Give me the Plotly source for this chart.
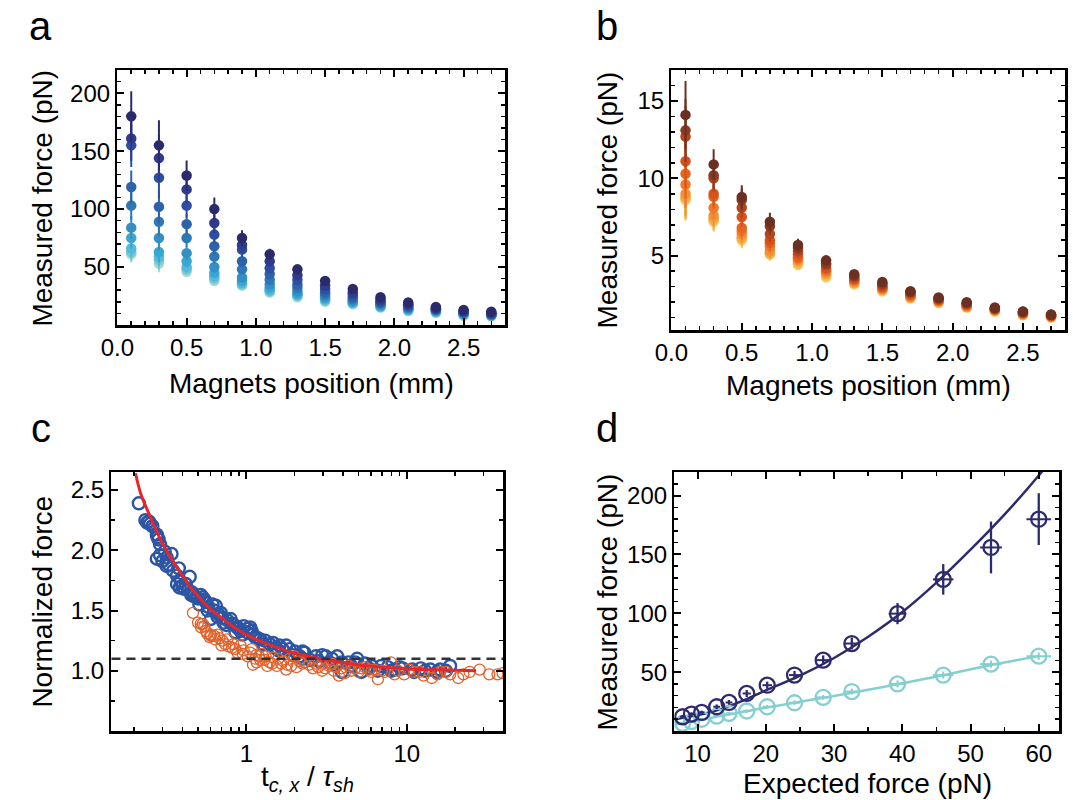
import plotly.graph_objects as go

W, H = 1073, 800
FONT = "Liberation Sans, Arial, sans-serif"

# ---------------- Panel a data ----------------
pos_mm = [0.1, 0.3, 0.5, 0.7, 0.9, 1.1, 1.3, 1.5, 1.7, 1.9, 2.1, 2.3, 2.5, 2.7]
force_a_1 = [180, 155, 129, 100, 75, 61, 48, 38, 31, 24, 19.5, 15.5, 13, 11.5]
force_a_2 = [161, 144, 117, 88, 69, 55, 43, 34, 28, 22, 18, 14.5, 12, 10.5]
force_a_3 = [155, 127, 103, 78, 65, 49, 39, 31, 26, 20.5, 17, 14, 11.5, 10]
force_a_4 = [119, 102, 87, 68, 55, 44, 35, 28.5, 24, 19.5, 16, 13.5, 11, 9.5]
force_a_5 = [103, 89, 75, 59, 48, 39, 32, 26.5, 22.5, 18.5, 15, 13, 10.5, 9]
force_a_6 = [84, 75, 62, 50, 41, 35, 29, 24.5, 21, 17.5, 14.5, 12.5, 10, 8.5]
force_a_7 = [75, 63, 55, 45, 38, 32, 27, 23, 20, 16.5, 13.5, 12, 9.5, 8.5]
force_a_8 = [66, 59, 50, 42, 36, 30, 26, 22, 19, 16, 13, 11.5, 9, 8]
force_a_9 = [63, 56, 48, 40, 35, 29, 25, 21, 18.5, 15.5, 12.5, 11, 8.5, 8]
force_a_10 = [61, 53, 46, 38, 34, 28, 24, 20, 18, 15, 12, 10.5, 8, 7.5]
rel_err_a = [0.12, 0.14, 0.10, 0.10, 0.09, 0.08, 0.065, 0.055, 0.05, 0.05, 0.05, 0.05, 0.05, 0.05]
colors_a = ["#2b2b6b", "#2f3b8e", "#2e4e9f", "#2c63ab", "#2e78b6",
            "#3490c4", "#3aa7d3", "#55b9d9", "#79c7d6", "#a3dbcf"]

# ---------------- Panel b data ----------------
force_b_1 = [14.1, 10.9, 8.8, 7.2, 5.7, 4.7, 3.8, 3.3, 2.7, 2.3, 2.0, 1.65, 1.4, 1.2]
force_b_2 = [13.1, 10.2, 8.6, 6.9, 5.5, 4.5, 3.7, 3.2, 2.65, 2.25, 1.95, 1.6, 1.38, 1.18]
force_b_3 = [12.7, 10.0, 8.1, 6.4, 5.3, 4.4, 3.6, 3.1, 2.6, 2.2, 1.9, 1.58, 1.35, 1.15]
force_b_4 = [11.1, 9.0, 7.5, 6.0, 5.1, 4.2, 3.5, 3.0, 2.5, 2.15, 1.85, 1.55, 1.3, 1.12]
force_b_5 = [10.3, 8.8, 6.8, 5.8, 4.9, 4.1, 3.45, 2.95, 2.45, 2.1, 1.8, 1.52, 1.28, 1.1]
force_b_6 = [9.6, 8.1, 6.6, 5.6, 4.8, 4.0, 3.4, 2.9, 2.4, 2.08, 1.76, 1.5, 1.25, 1.08]
force_b_7 = [9.0, 7.6, 6.4, 5.3, 4.7, 3.9, 3.3, 2.85, 2.35, 2.05, 1.72, 1.47, 1.22, 1.06]
force_b_8 = [8.8, 7.4, 6.2, 5.2, 4.6, 3.8, 3.25, 2.8, 2.3, 2.0, 1.7, 1.45, 1.2, 1.05]
force_b_9 = [8.7, 7.3, 6.1, 5.1, 4.5, 3.7, 3.2, 2.75, 2.27, 1.97, 1.67, 1.42, 1.17, 1.03]
force_b_10 = [8.6, 7.2, 6.0, 5.1, 4.4, 3.6, 3.15, 2.7, 2.25, 1.95, 1.65, 1.4, 1.15, 1.0]
rel_err_b = [0.155, 0.09, 0.085, 0.08, 0.07, 0.05, 0.04, 0.04, 0.04, 0.04, 0.04, 0.04, 0.04, 0.04]
colors_b = ["#6a3021", "#8c3a22", "#b5441f", "#d65419", "#e8651e",
            "#ee7a2b", "#f29238", "#f5a945", "#f7bd52", "#f9cf63"]

# ---------------- Panel c data ----------------
c_blue_x = [0.214, 0.235, 0.241, 0.247, 0.252, 0.277, 0.284, 0.280, 0.277, 0.290, 0.300, 0.319,
            0.342, 0.319, 0.330, 0.380, 0.370, 0.444, 0.370, 0.385, 0.400, 0.434, 0.454, 0.470,
            0.487, 0.535, 0.548, 0.510, 0.616, 0.646, 0.574, 0.693, 0.602, 0.710, 0.798, 0.817,
            0.877, 0.963, 1.057, 1.080, 1.010, 0.920, 0.856, 0.750, 0.660, 1.135, 1.310, 1.220,
            1.470, 1.610, 1.770, 1.580, 1.860, 2.000, 2.240, 2.300, 2.240, 2.710, 2.840, 2.970,
            3.120, 3.420, 3.680, 3.940, 3.940, 4.330, 4.760, 4.900, 5.200, 5.480, 6.020, 6.600,
            6.930, 7.600, 8.370, 9.400, 10.80, 11.10, 12.20, 14.00, 15.40, 16.10, 18.60,
            0.260, 0.290, 0.310, 0.350, 0.390, 0.410, 0.420, 0.460, 0.500, 0.520, 0.560, 0.580,
            0.630, 0.670, 0.720, 0.760, 0.840, 0.900, 0.950, 1.020, 1.100, 1.180, 1.280, 1.400,
            1.520, 1.680, 1.950, 2.150, 2.500, 3.300, 3.600, 4.500, 5.800, 8.000, 9.000, 13.00,
            17.50]
c_blue_y = [2.39, 2.25, 2.23, 2.24, 2.22, 2.13, 2.09, 2.11, 1.93, 1.96, 1.91, 1.94,
            1.97, 1.87, 1.88, 1.85, 1.79, 1.78, 1.72, 1.69, 1.70, 1.67, 1.63, 1.62,
            1.61, 1.61, 1.59, 1.55, 1.55, 1.54, 1.50, 1.48, 1.43, 1.44, 1.43, 1.39,
            1.36, 1.37, 1.36, 1.33, 1.32, 1.33, 1.32, 1.38, 1.45, 1.28, 1.25, 1.26,
            1.23, 1.21, 1.21, 1.17, 1.18, 1.16, 1.16, 1.15, 1.10, 1.12, 1.08, 1.13,
            1.12, 1.10, 1.12, 1.07, 0.99, 1.07, 1.07, 1.10, 0.99, 1.06, 1.04, 1.00,
            1.04, 1.03, 1.01, 1.02, 1.01, 0.99, 1.02, 1.01, 0.99, 1.01, 1.04,
            2.20, 2.05, 1.99, 1.83, 1.74, 1.68, 1.72, 1.65, 1.60, 1.63, 1.57, 1.53,
            1.50, 1.47, 1.40, 1.42, 1.38, 1.35, 1.30, 1.35, 1.30, 1.27, 1.22, 1.22,
            1.19, 1.18, 1.13, 1.12, 1.09, 1.07, 1.05, 1.04, 1.02, 1.00, 1.03, 1.00,
            1.00]
c_orange_x = [0.465, 0.520, 0.535, 0.522, 0.548, 0.560, 0.602, 0.631, 0.661, 0.600, 0.710, 0.762,
              0.740, 0.817, 0.856, 0.920, 0.963, 1.057, 1.135, 1.160, 1.250, 1.300, 1.400, 1.470,
              1.580, 1.770, 1.860, 1.995, 2.140, 2.240, 2.460, 2.710, 2.970, 3.270, 3.590, 3.770,
              4.330, 4.760, 5.480, 6.000, 6.600, 7.250, 7.960, 8.370, 9.630, 11.10, 12.70, 14.30,
              16.10, 18.60, 20.90, 24.60, 28.40, 32.60, 36.70, 39.50, 1.200, 1.100, 1.350, 1.650,
              1.900, 2.600, 3.000, 3.500, 4.100, 5.000, 5.800,
              0.500, 0.570, 0.590, 0.640, 0.680, 0.700, 0.780, 0.830, 0.880, 0.950, 1.020, 1.080,
              1.150, 1.220, 1.320, 1.450, 1.550, 1.700, 1.800, 2.050, 2.300, 2.800, 3.100, 3.400,
              3.900, 4.500, 5.200, 6.300, 7.000, 8.800, 10.30, 12.00, 15.50, 17.50, 22.50]
c_orange_y = [1.48, 1.39, 1.39, 1.36, 1.37, 1.33, 1.29, 1.29, 1.30, 1.30, 1.25, 1.26,
              1.22, 1.19, 1.18, 1.21, 1.17, 1.15, 1.10, 1.07, 1.14, 1.09, 1.07, 1.11,
              1.10, 1.01, 1.10, 1.12, 1.08, 1.06, 1.05, 1.06, 1.00, 1.04, 1.03, 0.96,
              1.04, 1.02, 1.03, 0.99, 0.93, 0.99, 1.07, 0.97, 0.97, 0.99, 0.96, 0.94,
              0.99, 0.97, 0.94, 0.99, 1.01, 0.97, 0.97, 0.98, 1.12, 1.05, 1.04, 1.06,
              1.04, 1.02, 1.06, 1.00, 0.98, 0.99, 1.01,
              1.40, 1.31, 1.28, 1.26, 1.27, 1.21, 1.20, 1.22, 1.15, 1.14, 1.12, 1.18,
              1.13, 1.09, 1.12, 1.06, 1.04, 1.08, 1.05, 1.03, 1.07, 1.03, 1.02, 1.06,
              1.02, 1.00, 1.02, 1.01, 1.00, 1.00, 1.01, 0.99, 0.97, 0.99, 0.97]
c_fit_x = [0.204, 0.22, 0.25, 0.28, 0.32, 0.36, 0.40, 0.45, 0.5, 0.6, 0.7, 0.8, 0.9, 1.0,
           1.2, 1.5, 2.0, 2.5, 3.0, 4.0, 5.0, 7.0, 10.0, 15.0, 20.0, 27.0]
c_fit_y = [2.64, 2.47, 2.29, 2.14, 1.99, 1.88, 1.79, 1.69, 1.62, 1.51, 1.44, 1.38, 1.335, 1.30,
           1.25, 1.20, 1.145, 1.115, 1.095, 1.068, 1.048, 1.03, 1.015, 1.008, 1.004, 1.0]
c_threshold = 1.1

# ---------------- Panel d data ----------------
expected_force = [7.8, 9.1, 10.6, 12.8, 14.6, 17.2, 20.2, 24.2, 28.4, 32.6, 39.3, 46.0, 53.0, 60.0]
measured_dark = [12.1, 14.4, 15.8, 20.6, 24.3, 31.9, 38.9, 47.5, 60.2, 74.3, 99.7, 128.8, 155.9, 179.9]
measured_dark_err = [1.5, 1.5, 1.5, 2, 2, 3, 3, 3.5, 4, 5, 9, 13, 22, 22]
measured_cyan = [6.5, 8.0, 10.0, 12.7, 15.0, 17.0, 20.6, 24.0, 28.6, 33.5, 40.0, 47.5, 56.8, 63.6]
measured_cyan_err = [1, 1, 1, 1, 1, 1.5, 1.5, 2, 2, 2.5, 3, 3, 3, 3]
expected_err = [0.4, 0.4, 0.4, 0.5, 0.5, 0.6, 0.7, 0.8, 1.0, 1.1, 1.3, 1.5, 1.6, 1.8]
fit_dark_x = [6.8, 10, 12.5, 15, 17.5, 20, 25, 30, 35, 40, 45, 50, 55, 60, 61.5]
fit_dark_y = [10.0, 13.5, 17.0, 22.0, 28.0, 34.5, 47.0, 62.0, 80.0, 101.0, 126.0, 154.0, 184.0, 217.0, 228.0]
fit_cyan_x = [6.8, 10, 15, 20, 25, 30, 35, 40, 46, 53, 60]
fit_cyan_y = [5.5, 9.0, 14.5, 19.8, 24.8, 29.8, 35.0, 40.5, 47.3, 56.0, 63.6]
color_dark = "#2e2a6e"
color_cyan = "#84cfcf"


def px_x(p):
    return p / W


def px_y(p):
    return 1 - p / H


fig = go.Figure()

# Panel a (lightest drawn first)
series_a = [force_a_1, force_a_2, force_a_3, force_a_4, force_a_5,
            force_a_6, force_a_7, force_a_8, force_a_9, force_a_10]
for vals, col in reversed(list(zip(series_a, colors_a))):
    fig.add_trace(go.Scatter(
        x=pos_mm, y=vals, mode="markers", xaxis="x", yaxis="y",
        marker=dict(size=10.5, color=col),
        error_y=dict(type="data", array=[v * r for v, r in zip(vals, rel_err_a)],
                     thickness=2, width=0, color=col),
        showlegend=False))

# Panel b
series_b = [force_b_1, force_b_2, force_b_3, force_b_4, force_b_5,
            force_b_6, force_b_7, force_b_8, force_b_9, force_b_10]
for vals, col in reversed(list(zip(series_b, colors_b))):
    fig.add_trace(go.Scatter(
        x=pos_mm, y=vals, mode="markers", xaxis="x2", yaxis="y2",
        marker=dict(size=10.5, color=col),
        error_y=dict(type="data", array=[v * r for v, r in zip(vals, rel_err_b)],
                     thickness=2, width=0, color=col),
        showlegend=False))

# Panel c
fig.add_trace(go.Scatter(
    x=c_blue_x, y=c_blue_y, mode="markers", xaxis="x3", yaxis="y3",
    marker=dict(size=12, color="rgba(0,0,0,0)", line=dict(color="#2c55a4", width=2.4)),
    showlegend=False))
fig.add_trace(go.Scatter(
    x=c_orange_x, y=c_orange_y, mode="markers", xaxis="x3", yaxis="y3",
    marker=dict(size=11, color="rgba(0,0,0,0)", line=dict(color="#e0632c", width=1.3)),
    showlegend=False))
fig.add_trace(go.Scatter(
    x=c_fit_x, y=c_fit_y, mode="lines", xaxis="x3", yaxis="y3",
    line=dict(color="#e6262b", width=3, shape="spline"), showlegend=False))
fig.add_shape(type="line", xref="x3 domain", yref="y3", x0=0, x1=1,
              y0=c_threshold, y1=c_threshold,
              line=dict(color="#333333", width=2.5, dash="9px,6px"))

# Panel d
fig.add_trace(go.Scatter(
    x=fit_cyan_x, y=fit_cyan_y, mode="lines", xaxis="x4", yaxis="y4",
    line=dict(color=color_cyan, width=2.5, shape="spline"), showlegend=False))
fig.add_trace(go.Scatter(
    x=fit_dark_x, y=fit_dark_y, mode="lines", xaxis="x4", yaxis="y4",
    line=dict(color=color_dark, width=2.5, shape="spline"), showlegend=False))
fig.add_trace(go.Scatter(
    x=expected_force, y=measured_cyan, mode="markers", xaxis="x4", yaxis="y4",
    marker=dict(size=15, color="rgba(0,0,0,0)", line=dict(color=color_cyan, width=2.3)),
    error_y=dict(type="data", array=measured_cyan_err, thickness=2, width=0, color=color_cyan),
    error_x=dict(type="data", array=expected_err, thickness=2, width=0, color=color_cyan),
    showlegend=False))
fig.add_trace(go.Scatter(
    x=expected_force, y=measured_dark, mode="markers", xaxis="x4", yaxis="y4",
    marker=dict(size=15, color="rgba(0,0,0,0)", line=dict(color=color_dark, width=2.3)),
    error_y=dict(type="data", array=measured_dark_err, thickness=2.3, width=0, color=color_dark),
    error_x=dict(type="data", array=expected_err, thickness=2, width=0, color=color_dark),
    showlegend=False))

tickfont = dict(size=24, color="black", family=FONT)


def axis(domain, **kw):
    d = dict(domain=domain, showline=True, linewidth=2.5, linecolor="black",
             mirror="allticks", ticks="inside", ticklen=7, tickwidth=2, tickcolor="black",
             showgrid=False, zeroline=False, tickfont=tickfont)
    d.update(kw)
    return d


def minor(**kw):
    m = dict(ticks="inside", ticklen=4, tickwidth=1.5, tickcolor="black", showgrid=False)
    m.update(kw)
    return m


# pixel frames (left, right, top, bottom)
A = (102, 496, 70, 325)
B = (665, 1065, 70, 330)
C = (96, 494, 472, 731)
D = (668, 1059, 472, 731)


def xd(f):
    return [px_x(f[0]), px_x(f[1])]


def yd(f):
    return [px_y(f[3]), px_y(f[2])]


fig.update_layout(
    width=W, height=H, margin=dict(l=0, r=0, t=0, b=0),
    paper_bgcolor="white", plot_bgcolor="white",
    font=dict(family=FONT, color="black"),
    xaxis=axis(xd(A), anchor="y", range=[0, 2.8], tickvals=[0, 0.5, 1.0, 1.5, 2.0, 2.5],
               ticktext=["0.0", "0.5", "1.0", "1.5", "2.0", "2.5"], minor=minor(dtick=0.1)),
    yaxis=axis(yd(A), anchor="x", range=[0, 220], tickvals=[50, 100, 150, 200],
               minor=minor(dtick=10)),
    xaxis2=axis(xd(B), anchor="y2", range=[0, 2.8], tickvals=[0, 0.5, 1.0, 1.5, 2.0, 2.5],
                ticktext=["0.0", "0.5", "1.0", "1.5", "2.0", "2.5"], minor=minor(dtick=0.1)),
    yaxis2=axis(yd(B), anchor="x2", range=[0.2, 17.0], tickvals=[5, 10, 15],
                minor=minor(dtick=1)),
    xaxis3=axis(xd(C), anchor="y3", type="log", range=[-0.84, 1.60], tickvals=[1, 10],
                ticktext=["1", "10"],
                minor=minor(tickvals=[0.2, 0.3, 0.4, 0.5, 0.6, 0.7, 0.8, 0.9,
                                      2, 3, 4, 5, 6, 7, 8, 9, 20, 30])),
    yaxis3=axis(yd(C), anchor="x3", range=[0.5, 2.65], tickvals=[1.0, 1.5, 2.0, 2.5],
                ticktext=["1.0", "1.5", "2.0", "2.5"], minor=minor(dtick=0.25, tick0=0.5)),
    xaxis4=axis(xd(D), anchor="y4", range=[6.6, 63.0], tickvals=[10, 20, 30, 40, 50, 60],
                minor=minor(dtick=5, tick0=0)),
    yaxis4=axis(yd(D), anchor="x4", range=[0, 220], tickvals=[50, 100, 150, 200],
                minor=minor(dtick=10)),
)

TITLE = 28


def ann(text, x, y, size=TITLE, angle=0):
    fig.add_annotation(text=text, x=px_x(x), y=px_y(y), xref="paper", yref="paper",
                       xanchor="center", yanchor="middle", showarrow=False, textangle=angle,
                       font=dict(size=size, color="black", family=FONT))


ann("Measured force (pN)", 25, 198, angle=-90)
ann("Magnets position (mm)", 299, 383)
ann("Measured force (pN)", 600, 200, angle=-90)
ann("Magnets position (mm)", 865, 386)
ann("Normalized force", 25, 602, angle=-90)
ann("t<sub><i>c, x</i></sub> / <i>τ</i><sub><i>sh</i></sub>", 295, 778)
ann("Measured force (pN)", 600, 602, angle=-90)
ann("Expected force (pN)", 864, 783)
ann("a", 24, 26, size=40)
ann("b", 600, 26, size=40)
ann("c", 24, 428, size=40)
ann("d", 600, 428, size=40)

fig.write_html("out.html",
               config={"displayModeBar": False, "staticPlot": True},
               post_script="document.body.style.margin='0';document.body.style.overflow='hidden';")
